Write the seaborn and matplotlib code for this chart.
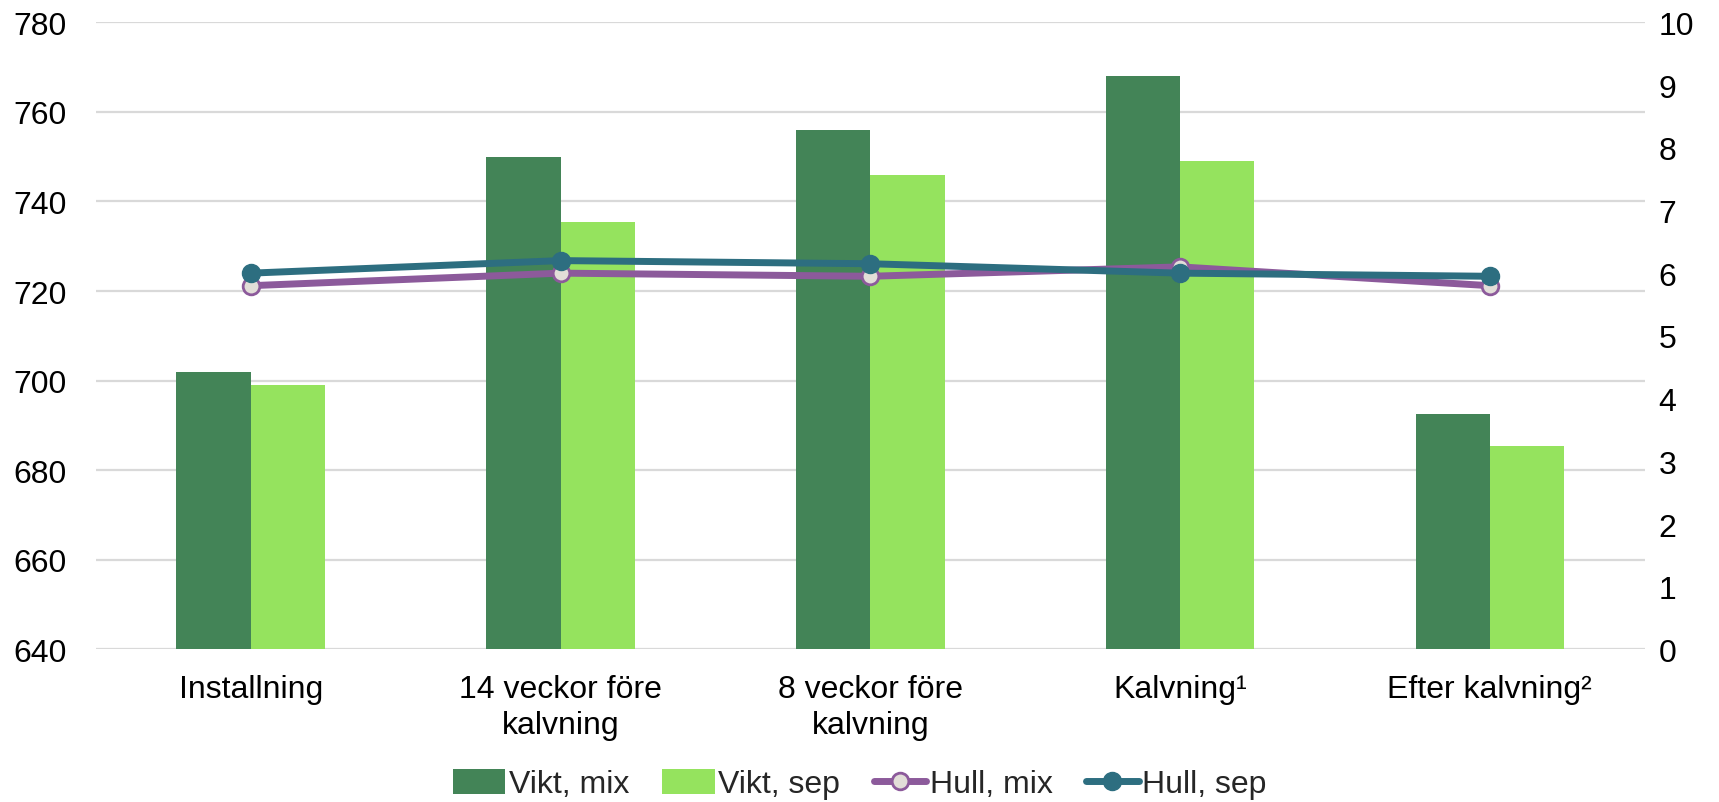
import numpy as np
import pandas as pd
import matplotlib
matplotlib.use("Agg")
import matplotlib.pyplot as plt
import seaborn as sns
from matplotlib.lines import Line2D
from matplotlib.patches import Patch

categories = ["Installning", "14 veckor före\nkalvning", "8 veckor före\nkalvning",
              "Kalvning¹", "Efter kalvning²"]
vikt_mix = [702, 750, 756, 768, 692.5]
vikt_sep = [699, 735.5, 746, 749, 685.5]
hull_mix = [5.8, 6.0, 5.95, 6.1, 5.8]
hull_sep = [6.0, 6.2, 6.15, 6.0, 5.95]
left_ticks = [640, 660, 680, 700, 720, 740, 760, 780]
right_ticks = list(range(0, 11))

c_mix = "#438457"
c_sep = "#95E35E"
c_hmix = "#8C5A9B"
c_hsep = "#2D6E80"

sns.set_theme(style="white")
plt.rcParams["font.family"] = ["Liberation Sans", "DejaVu Sans"]

fig = plt.figure(figsize=(17.19, 8.03), dpi=100)
ax = fig.add_axes([0.0558, 0.19, 0.901, 0.781])

df = pd.DataFrame({
    "kat": categories * 2,
    "vikt": vikt_mix + vikt_sep,
    "serie": ["Vikt, mix"] * 5 + ["Vikt, sep"] * 5,
})
sns.barplot(data=df, x="kat", y="vikt", hue="serie", order=categories,
            palette=[c_mix, c_sep], width=0.48, gap=0, ax=ax,
            legend=False, saturation=1, linewidth=0)

ax.set_ylim(640, 780)
ax.set_yticks(left_ticks)
ax.set_xlim(-0.5, 4.5)
ax.set_xlabel("")
ax.set_ylabel("")
ax.grid(axis="y", color="#D9D9D9", linewidth=1.6)
ax.set_axisbelow(True)
for s in ax.spines.values():
    s.set_visible(False)
ax.tick_params(axis="both", length=0, labelsize=23, colors="black")
ax.tick_params(axis="y", pad=21)
ax.tick_params(axis="x", pad=18)
for lbl in ax.get_xticklabels():
    lbl.set_linespacing(1.25)

ax2 = ax.twinx()
xpos = np.arange(len(categories))
sns.lineplot(x=xpos, y=hull_mix, ax=ax2, color=c_hmix, linewidth=5,
             marker="o", markersize=12, markerfacecolor="#E2DED8",
             markeredgecolor=c_hmix, markeredgewidth=2)
sns.lineplot(x=xpos, y=hull_sep, ax=ax2, color=c_hsep, linewidth=5,
             marker="o", markersize=13, markerfacecolor=c_hsep,
             markeredgecolor=c_hsep, markeredgewidth=1)
ax2.set_ylim(0, 10)
ax2.set_yticks(right_ticks)
ax2.set_xlim(-0.5, 4.5)
ax2.grid(False)
for s in ax2.spines.values():
    s.set_visible(False)
ax2.tick_params(axis="y", length=0, labelsize=23, colors="black", pad=10)

handles = [
    Patch(facecolor=c_mix, edgecolor="none"),
    Patch(facecolor=c_sep, edgecolor="none"),
    Line2D([], [], color=c_hmix, linewidth=5, marker="o", markersize=12,
           markerfacecolor="#E2DED8", markeredgecolor=c_hmix, markeredgewidth=2),
    Line2D([], [], color=c_hsep, linewidth=5, marker="o", markersize=13,
           markerfacecolor=c_hsep, markeredgecolor=c_hsep),
]
labels = ["Vikt, mix", "Vikt, sep", "Hull, mix", "Hull, sep"]
fig.legend(handles, labels, loc="center", bbox_to_anchor=(0.5, 0.022), ncol=4,
           frameon=False, fontsize=23, handlelength=1.65, handleheight=0.8,
           handletextpad=0.1, columnspacing=1.05)

fig.savefig("out.png", dpi=100)
